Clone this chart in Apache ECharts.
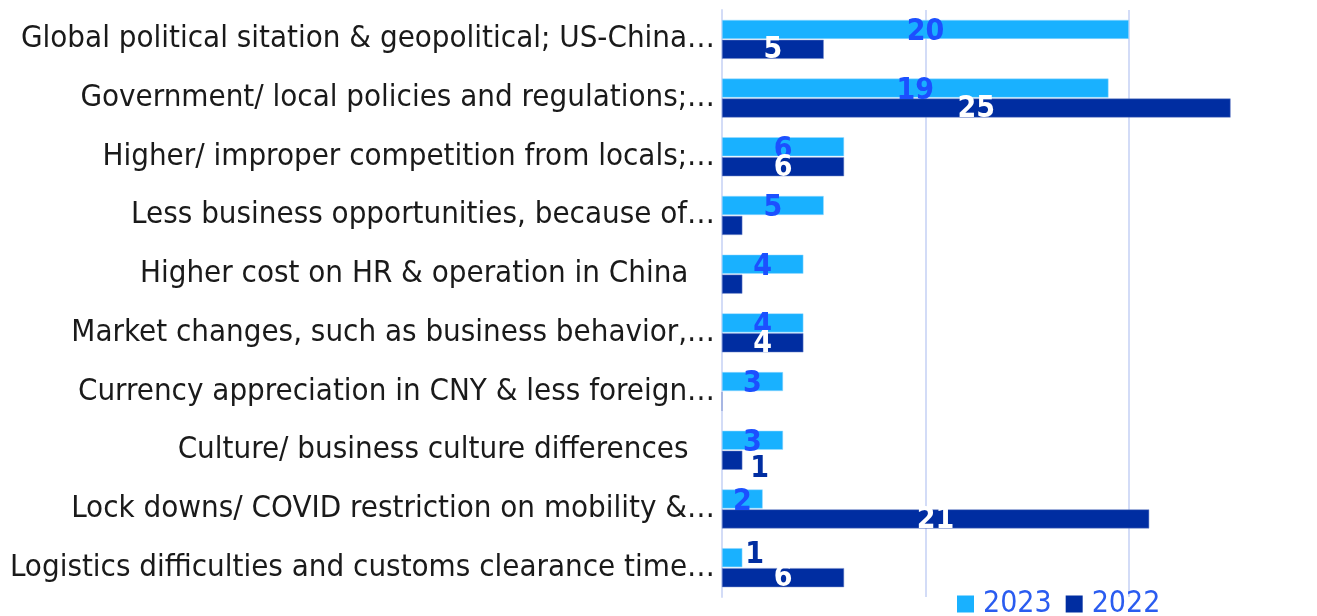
<!DOCTYPE html>
<html>
<head>
<meta charset="utf-8">
<script src="https://cdn.jsdelivr.net/npm/echarts@6/dist/echarts.min.js"></script>
<style>
  html, body { margin: 0; padding: 0; background: #fff; }
  #main { width: 1317px; height: 616px; }
</style>
</head>
<body>
<div id="main"></div>
<script>
var categories = [
  'Global political sitation & geopolitical; US-China…',
  'Government/ local policies and regulations;…',
  'Higher/ improper competition from locals;…',
  'Less business opportunities, because of…',
  'Higher cost on HR & operation in China',
  'Market changes, such as business behavior,…',
  'Currency appreciation in CNY & less foreign…',
  'Culture/ business culture differences',
  'Lock downs/ COVID restriction on mobility &…',
  'Logistics difficulties and customs clearance time…'
];
var values2023 = [20, 19, 6, 5, 4, 4, 3, 3, 2, 1];
var values2022 = [5, 25, 6, 1, 1, 4, 0, 1, 21, 6];
var xTicks = [0, 10, 20];

var light = '#19b1ff';
var navy = '#002da1';
var labelBlue = '#1c50ff';
var font = 'DejaVu Sans Condensed';

// the untruncated labels sit a bit further left in the original
function catLabel(v) {
  return v.slice(-1) === '…' ? v : v + '   ';
}

var data2023 = values2023.map(function (v) {
  var d = { value: v };
  if (v === 1) {
    d.label = { position: 'right', distance: 3, color: navy, offset: [0, -2] };
  }
  return d;
});
var data2022 = values2022.map(function (v, i) {
  var d = { value: v };
  if (v === 0) d.label = { show: false };
  if (v === 1) {
    // tiny bars: label pushed out to the right of the bar
    d.label = { position: 'right', distance: 8, offset: [0, 9] };
    if (categories[i].indexOf('Culture') === 0) d.label.color = navy;
  }
  return d;
});

var myChart = echarts.init(document.getElementById('main'));
var option = {
  animation: false,
  textStyle: { fontFamily: font },
  grid: { left: 722, right: 0, top: 10, bottom: 19 },
  legend: {
    bottom: -8,
    left: 952,
    itemWidth: 17,
    itemHeight: 17,
    itemGap: 14,
    icon: 'rect',
    itemStyle: { borderWidth: 0 },
    data: ['2023', '2022'],
    textStyle: { fontSize: 30, color: '#2a5cf0', fontFamily: font, padding: [0, 0, 0, 4] }
  },
  xAxis: {
    type: 'value',
    min: xTicks[0],
    max: 29.25,
    interval: 10,
    axisLabel: { show: false },
    axisLine: { show: false },
    axisTick: { show: false },
    splitLine: { showMaxLine: false, lineStyle: { color: '#d3dcf7', width: 2 } }
  },
  yAxis: {
    type: 'category',
    inverse: true,
    data: categories,
    axisLine: { show: true, lineStyle: { color: '#d3dcf7', width: 2 } },
    axisTick: { show: false },
    axisLabel: {
      fontSize: 31,
      color: '#1a1a1a',
      margin: 7,
      padding: [5, 0, 0, 0],
      fontFamily: font,
      formatter: catLabel
    }
  },
  series: [
    {
      name: '2023',
      type: 'bar',
      data: data2023,
      barWidth: 19,
      barGap: '5%',
      itemStyle: { color: light, borderColor: '#9fdcff', borderWidth: 0.5 },
      label: {
        show: true,
        position: 'inside',
        color: labelBlue,
        fontSize: 30,
        fontWeight: 'bold',
        fontFamily: font,
        offset: [0, 3]
      }
    },
    {
      name: '2022',
      type: 'bar',
      data: data2022,
      barWidth: 19,
      itemStyle: { color: navy, borderColor: '#6f86c9', borderWidth: 0.5 },
      label: {
        show: true,
        position: 'inside',
        color: '#ffffff',
        fontSize: 30,
        fontWeight: 'bold',
        fontFamily: font,
        offset: [0, 1]
      }
    }
  ]
};
option && myChart.setOption(option);
</script>
</body>
</html>
